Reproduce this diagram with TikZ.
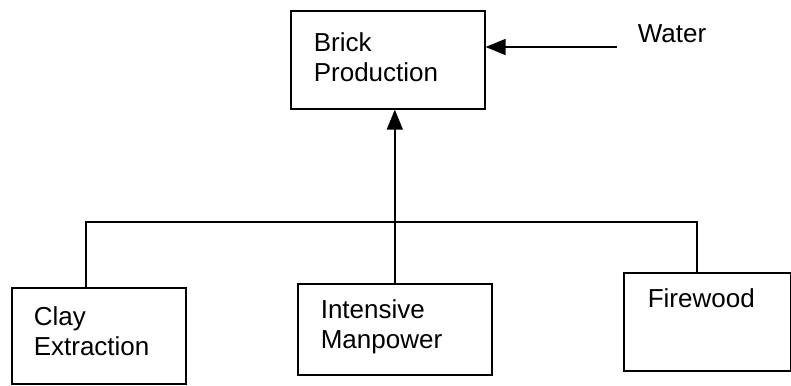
\documentclass[tikz,border=0pt]{standalone}
\usepackage{fontspec}
\setmainfont{Liberation Sans}
\usetikzlibrary{arrows.meta,positioning,calc}

\begin{document}
\begin{tikzpicture}[x=0.5pt, y=-0.5pt, line width=0.8pt,
        box/.style={draw, anchor=north west, inner sep=0pt},
        lbl/.style={anchor=north west, align=left, inner sep=0pt,
            font=\fontsize{13}{15}\selectfont},
        tip/.style={-{Triangle[length=10pt,width=8pt]}}]
        % Frame of the picture (pixel units)
        \useasboundingbox (0,0) rectangle (791,385);
        % Boxes
        \node (prod) [box, minimum width=97pt, minimum height=49pt] at (290,10) {};
        \node (clay) [box, minimum width=87pt, minimum height=48pt] at (11,287) {};
        \node (man) [box, minimum width=97pt, minimum height=45.5pt] at (297,283) {};
        \node (fire) [box, minimum width=83.5pt, minimum height=49pt] at (623,272) {};
        % Texts inside the boxes
        \node (prodtxt) [lbl] at ([shift={(23,22)}]prod.north west) {Brick\\Production};
        \node (claytxt) [lbl] at ([shift={(22,19)}]clay.north west) {Clay\\Extraction};
        \node (mantxt) [lbl] at ([shift={(23,16)}]man.north west) {Intensive\\Manpower};
        \node (firetxt) [lbl] at ([shift={(24,16)}]fire.north west) {Firewood};
        % Water input
        \node (water) [lbl] at (637,24) {Water};
        \coordinate (wsrc) at (617,47);
        % Points of the branch line
        \coordinate (busL) at (86,222);
        \coordinate (busR) at (697,222);

        \draw [tip] (wsrc) -- (wsrc -| prod.east);
        \draw [tip] (man.north) -- (man.north |- prod.south);
        \draw (clay.north -| busL) -- (busL) -- (busR) -- (fire.north -| busR);
\end{tikzpicture}
\end{document}
